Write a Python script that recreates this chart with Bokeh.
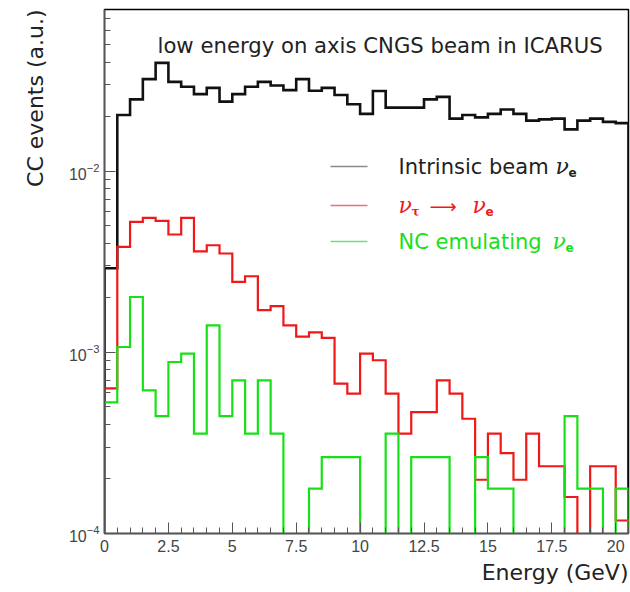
import numpy as np
from bokeh.plotting import figure
from bokeh.models import (Range1d, FixedTicker, LogTicker, NumeralTickFormatter,
                          Label, Arrow, Title)
from bokeh.embed import file_html
from bokeh.resources import INLINE

# ---------------- data (bin width 0.5 GeV, 41 bins from 0 to 20.5 GeV) -------------
bin_width = 0.5
energy_low_edges = [i * bin_width for i in range(41)]

beam_nue = [2.91e-3, 2.04e-2, 2.49e-2, 3.22e-2, 3.96e-2, 3.11e-2, 2.92e-2, 2.66e-2,
            2.88e-2, 2.42e-2, 2.66e-2, 2.92e-2, 3.11e-2, 2.97e-2, 2.80e-2, 3.22e-2,
            2.78e-2, 2.88e-2, 2.63e-2, 2.34e-2, 2.07e-2, 2.77e-2, 2.24e-2, 2.24e-2,
            2.24e-2, 2.49e-2, 2.57e-2, 1.95e-2, 2.04e-2, 1.98e-2, 2.07e-2, 2.19e-2,
            2.07e-2, 1.90e-2, 1.93e-2, 1.95e-2, 1.70e-2, 1.90e-2, 1.95e-2, 1.87e-2,
            1.84e-2]

nutau_nue = [6.32e-4, 3.82e-3, 5.25e-3, 5.52e-3, 5.31e-3, 4.47e-3, 5.52e-3, 3.61e-3,
             3.90e-3, 3.51e-3, 2.45e-3, 2.63e-3, 1.71e-3, 1.80e-3, 1.41e-3, 1.22e-3,
             1.29e-3, 1.20e-3, 6.72e-4, 5.91e-4, 9.84e-4, 9.04e-4, 5.91e-4, 3.56e-4,
             4.68e-4, 4.68e-4, 7.00e-4, 5.91e-4, 4.30e-4, 1.98e-4, 3.56e-4, 2.78e-4,
             1.98e-4, 3.56e-4, 2.35e-4, 2.35e-4, 1.59e-4, 0.0, 2.35e-4, 2.35e-4,
             1.18e-4]

nc_nue = [5.29e-4, 1.07e-3, 2.02e-3, 6.17e-4, 4.45e-4, 8.84e-4, 9.84e-4, 3.56e-4,
          1.41e-3, 4.45e-4, 7.00e-4, 3.56e-4, 7.00e-4, 3.56e-4, 0.0, 0.0,
          1.77e-4, 2.64e-4, 2.64e-4, 2.64e-4, 0.0, 0.0, 3.56e-4, 0.0,
          2.64e-4, 2.64e-4, 2.64e-4, 0.0, 0.0, 2.64e-4, 1.77e-4, 1.77e-4,
          0.0, 0.0, 0.0, 0.0, 4.45e-4, 1.77e-4, 1.77e-4, 0.0,
          1.77e-4]

x_ticks = [0, 2.5, 5, 7.5, 10, 12.5, 15, 17.5, 20]
title_text = "low energy on axis CNGS beam in ICARUS"
x_label = "Energy (GeV)"
y_label = "CC events (a.u.)"
legend_texts = ["Intrinsic beam", "NC emulating"]

FLOOR = 1e-7  # empty bins drop below the axis


def step_xy(lows, vals):
    xs, ys = [lows[0]], [FLOOR]
    for lo, v in zip(lows, vals):
        vv = v if v > 0 else FLOOR
        xs += [lo, lo + bin_width]
        ys += [vv, vv]
    xs.append(lows[-1] + bin_width)
    ys.append(FLOOR)
    return xs, ys


p = figure(width=630, height=592, y_axis_type="log", title=None,
           x_range=Range1d(0, 20.5), y_range=Range1d(1e-4, 0.078),
           output_backend="svg", toolbar_location=None,
           min_border_left=104, min_border_right=2, min_border_top=9,
           min_border_bottom=59)
p.background_fill_color = "white"
p.border_fill_color = "white"
p.outline_line_color = "black"
p.outline_line_width = 1.5
p.xgrid.visible = False
p.ygrid.visible = False

BLACK, RED, GREEN = "#111111", "#f01818", "#18e018"

for vals, col, lw in [(beam_nue, BLACK, 2.6), (nutau_nue, RED, 2.2), (nc_nue, GREEN, 2.2)]:
    xs, ys = step_xy(energy_low_edges, vals)
    p.line(xs, ys, line_color=col, line_width=lw, line_join="miter")

# ---------------- axes ----------------
xa = p.xaxis[0]
xa.ticker = FixedTicker(ticks=x_ticks,
                        minor_ticks=[i * 0.5 for i in range(42)])
xa.formatter = NumeralTickFormatter(format="0.[0]")
ya = p.yaxis[0]
ya.ticker = LogTicker(num_minor_ticks=10)
for ax in (xa, ya):
    ax.axis_line_color = "#555555"
    ax.axis_line_width = 1.5
    ax.major_tick_in = 11
    ax.major_tick_out = 0
    ax.minor_tick_in = 6
    ax.minor_tick_out = 0
    ax.major_tick_line_color = "#555555"
    ax.minor_tick_line_color = "#555555"
    ax.major_label_text_font = "Liberation Sans"
    ax.major_label_text_font_size = "16px"
    ax.major_label_text_color = "#444444"
xa.major_label_standoff = 6
ya.major_label_standoff = 5

FONT = "DejaVu Sans"

# axis titles, ROOT style: aligned to the far ends of the frame
p.add_layout(Title(text=x_label, align="right", text_font=FONT,
                   text_font_size="22px", text_font_style="normal",
                   text_color="#222222", standoff=7), "below")
p.add_layout(Title(text=y_label, align="right", text_font=FONT,
                   text_font_size="22px", text_font_style="normal",
                   text_color="#222222", standoff=36), "left")


def lab(x, y, t, col, size="21px", font=FONT, style="normal", align="left"):
    p.add_layout(Label(x=x, y=y, x_units="screen", y_units="screen", text=t,
                       text_font=font, text_font_size=size, text_color=col,
                       text_font_style=style, text_baseline="middle",
                       text_align=align))


# ---------------- in-frame title ----------------
lab(53, 488, title_text, "#222222", "21.2px")

# ---------------- legend ----------------
rows_y = [367, 328, 292]
for ry, col in zip(rows_y, ["#8a8a8a", "#f07070", "#70e070"]):
    p.add_layout(Arrow(start=None, end=None, x_start=226, x_end=263, y_start=ry, y_end=ry,
                       start_units="screen", end_units="screen",
                       line_color=col, line_width=1.5))

GREEK = "DejaVu Serif"
# row 1
lab(294, rows_y[0], legend_texts[0], "#222222")
lab(451, rows_y[0], "\u03bd", "#222222", "22px", GREEK, "italic")
lab(464, rows_y[0] - 6, "e", "#222222", "12px", FONT, "bold")
# row 2
lab(294, rows_y[1], "\u03bd", RED, "22px", GREEK, "italic")
lab(307, rows_y[1] - 6, "\u03c4", RED, "12px", GREEK, "bold")
lab(325, rows_y[1], "\u27f6", RED, "19px", FONT)
lab(368, rows_y[1], "\u03bd", RED, "22px", GREEK, "italic")
lab(381, rows_y[1] - 6, "e", RED, "12px", FONT, "bold")
# row 3
lab(294, rows_y[2], legend_texts[1], GREEN)
lab(448, rows_y[2], "\u03bd", GREEN, "22px", GREEK, "italic")
lab(461, rows_y[2] - 6, "e", GREEN, "12px", FONT, "bold")

open("out.html", "w").write(file_html(p, INLINE))
